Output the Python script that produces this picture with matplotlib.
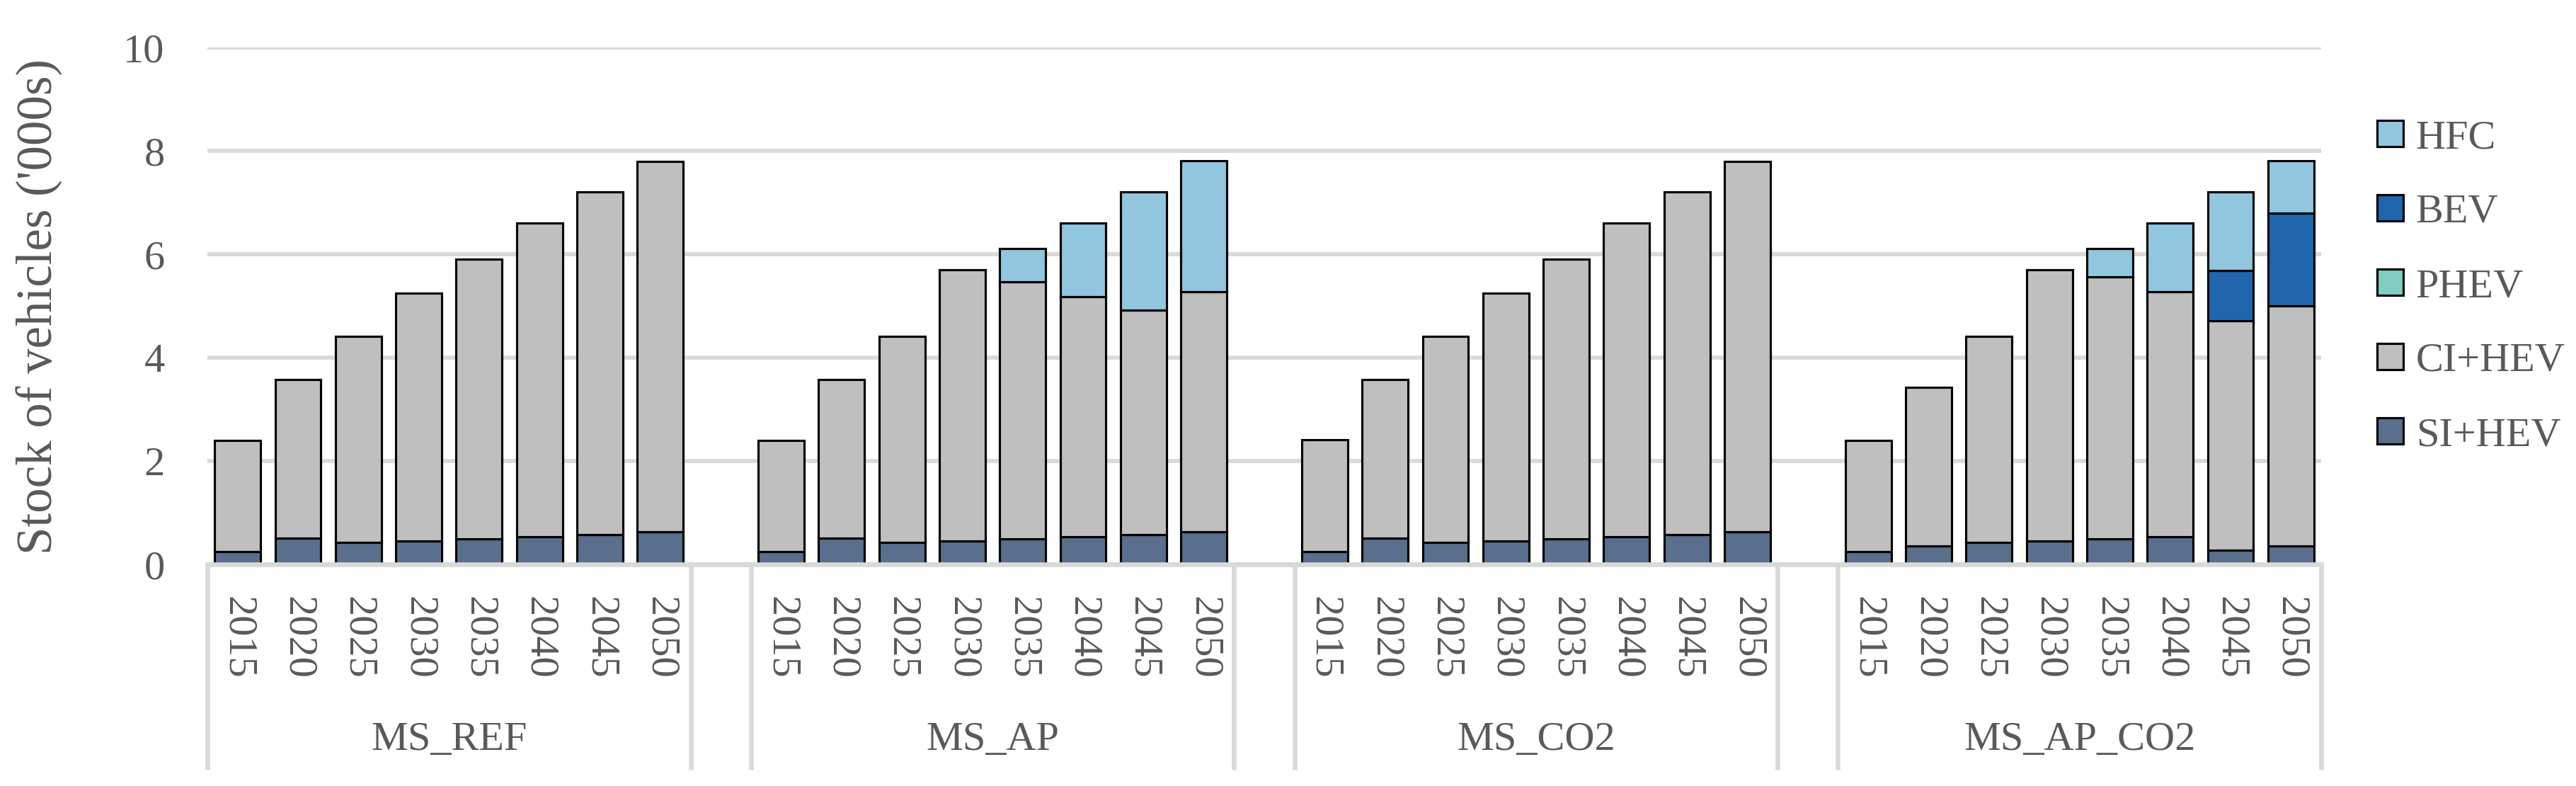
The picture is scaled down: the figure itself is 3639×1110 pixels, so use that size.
import numpy as np
import matplotlib
matplotlib.use("Agg")
import matplotlib.pyplot as plt
from matplotlib.patches import Patch
import matplotlib.transforms as mtransforms

plt.rcParams['font.family'] = ['Liberation Serif', 'DejaVu Serif']

groups = ['MS_REF', 'MS_AP', 'MS_CO2', 'MS_AP_CO2']
years = ['2015', '2020', '2025', '2030', '2035', '2040', '2045', '2050']
series = ['SI+HEV', 'CI+HEV', 'PHEV', 'BEV', 'HFC']
colors = {'SI+HEV': '#5A6E8D', 'CI+HEV': '#BFBFBF', 'PHEV': '#80CDC1',
          'BEV': '#2166AC', 'HFC': '#92C5DE'}

si_hev = {
    'MS_REF':    [0.25, 0.51, 0.43, 0.45, 0.49, 0.53, 0.58, 0.63],
    'MS_AP':     [0.25, 0.51, 0.43, 0.45, 0.49, 0.53, 0.58, 0.63],
    'MS_CO2':    [0.25, 0.51, 0.43, 0.45, 0.49, 0.53, 0.58, 0.63],
    'MS_AP_CO2': [0.25, 0.36, 0.43, 0.45, 0.49, 0.53, 0.28, 0.35],
}
ci_hev = {
    'MS_REF':    [2.15, 3.06, 3.98, 4.79, 5.42, 6.07, 6.62, 7.17],
    'MS_AP':     [2.15, 3.06, 3.98, 5.25, 4.98, 4.65, 4.34, 4.64],
    'MS_CO2':    [2.16, 3.07, 3.98, 4.80, 5.42, 6.07, 6.62, 7.17],
    'MS_AP_CO2': [2.15, 3.06, 3.98, 5.25, 5.07, 4.74, 4.43, 4.65],
}
phev = {
    'MS_REF':    [0, 0, 0, 0, 0, 0, 0, 0],
    'MS_AP':     [0, 0, 0, 0, 0, 0, 0, 0],
    'MS_CO2':    [0, 0, 0, 0, 0, 0, 0, 0],
    'MS_AP_CO2': [0, 0, 0, 0, 0, 0, 0, 0],
}
bev = {
    'MS_REF':    [0, 0, 0, 0, 0, 0, 0, 0],
    'MS_AP':     [0, 0, 0, 0, 0, 0, 0, 0],
    'MS_CO2':    [0, 0, 0, 0, 0, 0, 0, 0],
    'MS_AP_CO2': [0, 0, 0, 0, 0, 0, 0.97, 1.80],
}
hfc = {
    'MS_REF':    [0, 0, 0, 0, 0, 0, 0, 0],
    'MS_AP':     [0, 0, 0, 0, 0.64, 1.42, 2.29, 2.54],
    'MS_CO2':    [0, 0, 0, 0, 0, 0, 0, 0],
    'MS_AP_CO2': [0, 0, 0, 0, 0.55, 1.33, 1.53, 1.01],
}
data = {'SI+HEV': si_hev, 'CI+HEV': ci_hev, 'PHEV': phev, 'BEV': bev, 'HFC': hfc}
yticks = [0, 2, 4, 6, 8, 10]

TXT = '#595959'
GRID = '#D9D9D9'
W, H = 3639, 1110
DPI = 300
FS = 14
fig = plt.figure(figsize=(W / DPI, H / DPI), dpi=DPI)
ax_left, ax_right = 293 / W, 3279 / W
ax_bottom, ax_top = 1 - 797 / H, 1 - 67 / H
ax = fig.add_axes([ax_left, ax_bottom, ax_right - ax_left, ax_top - ax_bottom])

ng = len(years)
slots = len(groups) * (ng + 1) - 1
bw = 0.76
for gi, g in enumerate(groups):
    x = gi * (ng + 1) + np.arange(ng) + 0.5
    bottom = np.zeros(ng)
    for s in series:
        v = np.array(data[s][g], dtype=float)
        m = v > 0
        if m.any():
            ax.bar(x[m], v[m], bw, bottom=bottom[m], color=colors[s],
                   edgecolor='black', linewidth=0.75, zorder=3)
        bottom += v

ax.set_xlim(0, slots)
ax.set_ylim(0, 10)
ax.set_yticks(yticks)
ax.set_yticklabels([str(t) for t in yticks])
ax.tick_params(axis='y', length=0, pad=14.5, labelsize=FS, labelcolor=TXT)
ax.set_xticks([])
ax.grid(axis='y', color=GRID, linewidth=1.4, zorder=0)
ax.set_axisbelow(True)
for sp in ['top', 'right', 'left']:
    ax.spines[sp].set_visible(False)
ax.spines['bottom'].set_color(GRID)
ax.spines['bottom'].set_linewidth(1.6)
ax.spines['bottom'].set_zorder(4)

trans = mtransforms.blended_transform_factory(ax.transData, ax.transAxes)
axh = 797 - 67
line_bot = (797 - 1087) / axh
year_top = (797 - 842) / axh
grp_y = (797 - 1045) / axh
for gi, g in enumerate(groups):
    x0 = gi * (ng + 1)
    for xe in (x0, x0 + ng):
        ax.plot([xe, xe], [0, line_bot], transform=trans, color=GRID,
                linewidth=1.6, clip_on=False, solid_capstyle='butt')
    for j, yr in enumerate(years):
        ax.text(x0 + j + 0.5, year_top, yr, transform=trans, rotation=270,
                ha='center', va='top', fontsize=FS, color=TXT)
    ax.text(x0 + ng / 2, grp_y, g, transform=trans, ha='center', va='center',
            fontsize=FS, color=TXT)

fig.text(56 / W, 1 - 433 / H, "Stock of vehicles ('000s)", rotation=90,
         ha='center', va='center', fontsize=17, color=TXT)

leg_labels = series[::-1]


def build_legend(ls):
    handles = [Patch(facecolor=colors[s], edgecolor='black', linewidth=0.75)
               for s in leg_labels]
    lg = fig.legend(handles, leg_labels, loc='center left',
                    bbox_to_anchor=(3358 / W, 1 - 405 / H), frameon=False,
                    fontsize=FS, handlelength=0.64, handleheight=0.6,
                    handletextpad=0.3, labelspacing=ls, borderpad=0,
                    borderaxespad=0)
    for t in lg.get_texts():
        t.set_color(TXT)
    return lg


# target distance between legend rows: ~105 px
target = 105.0
ls = 0.7
leg = build_legend(ls)
for _ in range(3):
    fig.canvas.draw()
    r = fig.canvas.get_renderer()
    ys = [p.get_window_extent(r).y0 for p in leg.get_patches()]
    step = float(np.mean(np.abs(np.diff(ys))))
    ls += (target - step) / (FS * DPI / 72)
    leg.remove()
    leg = build_legend(ls)

fig.savefig('out.png', dpi=DPI)
